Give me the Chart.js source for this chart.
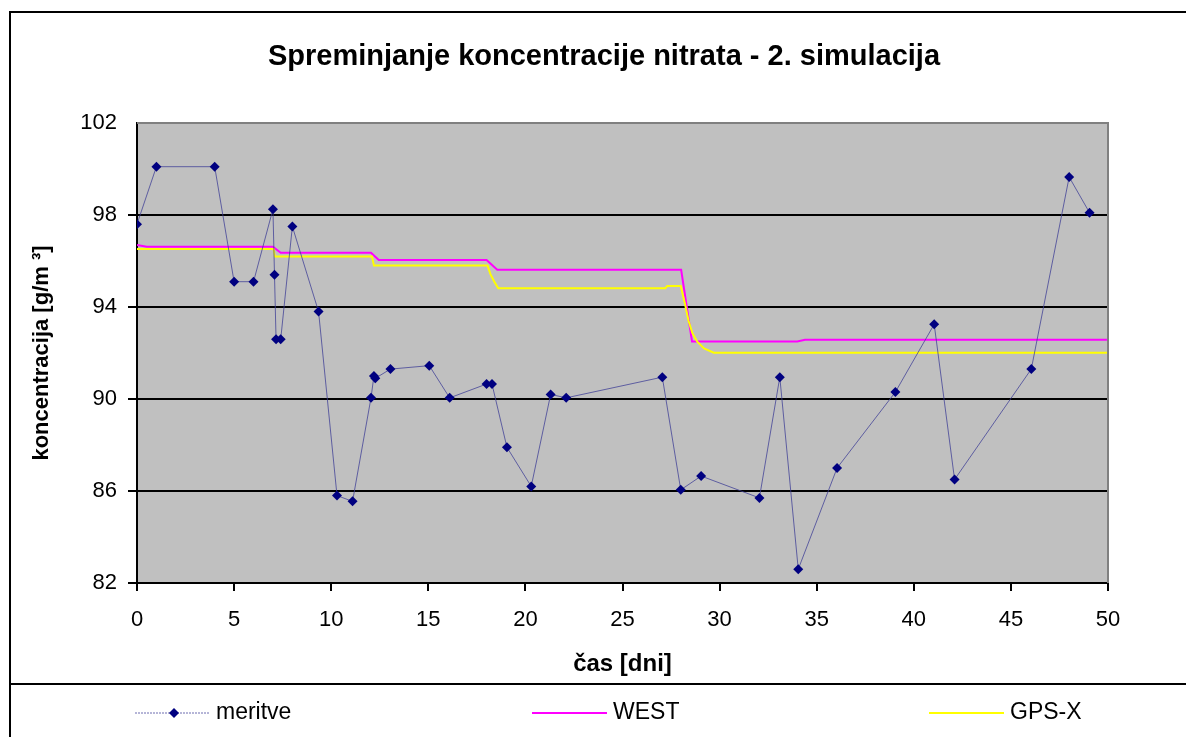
<!DOCTYPE html>
<html><head><meta charset="utf-8">
<script src="https://cdn.jsdelivr.net/npm/chart.js@4/dist/chart.umd.min.js"></script>
<style>html,body{margin:0;padding:0;background:#fff;overflow:hidden}</style>
</head><body>
<canvas id="c" width="1186" height="737" style="display:block;width:1186px;height:737px"></canvas>
<script>
const titleText = 'Spreminjanje koncentracije nitrata - 2. simulacija';
const xAxisTitle = 'čas [dni]';
const yAxisTitle = 'koncentracija [g/m ³]';
const seriesNames = ['meritve', 'WEST', 'GPS-X'];
const xTickValues = [0, 5, 10, 15, 20, 25, 30, 35, 40, 45, 50];
const yTickValues = [82, 86, 90, 94, 98, 102];

const meritveX = [0, 1, 4, 5, 6, 7, 7.08, 7.16, 7.4, 8, 9.35, 10.3, 11.1, 12.05, 12.2, 12.27, 13.05, 15.05, 16.1, 18.0, 18.28, 19.05, 20.3, 21.3, 22.1, 27.05, 28.0, 29.05, 32.05, 33.1, 34.05, 36.05, 39.05, 41.05, 42.1, 46.05, 48.0, 49.05];
const meritveY = [97.6, 100.1, 100.1, 95.1, 95.1, 98.25, 95.4, 92.6, 92.6, 97.5, 93.8, 85.8, 85.55, 90.05, 91.0, 90.9, 91.3, 91.45, 90.05, 90.65, 90.65, 87.9, 86.2, 90.2, 90.05, 90.95, 86.05, 86.65, 85.7, 90.95, 82.6, 87.0, 90.3, 93.25, 86.5, 91.3, 99.65, 98.1];

const westX = [0, 0.5, 7.0, 7.4, 12.05, 12.45, 18.0, 18.55, 28.02, 28.58, 34.0, 34.4, 50];
const westY = [96.7, 96.62, 96.62, 96.36, 96.36, 96.04, 96.04, 95.62, 95.62, 92.5, 92.5, 92.58, 92.58];

const gpsxX = [0, 7.03, 7.1, 12.1, 12.2, 18.05, 18.2, 18.4, 18.6, 27.2, 27.3, 28.0, 28.2, 28.4, 28.6, 28.85, 29.2, 29.7, 50];
const gpsxY = [96.52, 96.52, 96.2, 96.2, 95.8, 95.8, 95.43, 95.1, 94.81, 94.81, 94.91, 94.91, 94.2, 93.4, 92.86, 92.49, 92.2, 92.01, 92.01];

const toPts = (xs, ys) => xs.map((x, i) => ({x: x, y: ys[i]}));
const FONT = "'Liberation Sans', Arial, sans-serif";

const framePlugin = {
  id: 'frame',
  beforeDraw(chart) {
    const ctx = chart.ctx;
    ctx.save();
    ctx.fillStyle = '#fff';
    ctx.fillRect(0, 0, chart.width, chart.height);
    ctx.strokeStyle = '#000';
    ctx.lineWidth = 2;
    ctx.beginPath();
    ctx.moveTo(10, chart.height + 2); ctx.lineTo(10, 12); ctx.lineTo(chart.width + 2, 12);
    ctx.moveTo(10, 684); ctx.lineTo(chart.width + 2, 684);
    ctx.stroke();
    const a = chart.chartArea;
    ctx.fillStyle = '#c0c0c0';
    ctx.fillRect(a.left, a.top, a.right - a.left, a.bottom - a.top);
    ctx.restore();
  },
  afterDatasetsDraw(chart) {
    const ctx = chart.ctx;
    const a = chart.chartArea;
    ctx.save();
    ctx.strokeStyle = '#808080';
    ctx.lineWidth = 2;
    ctx.beginPath();
    ctx.moveTo(a.left, a.top); ctx.lineTo(a.right, a.top); ctx.lineTo(a.right, a.bottom);
    ctx.stroke();
    ctx.restore();
  },
  afterDraw(chart) {
    const ctx = chart.ctx;
    ctx.save();
    ctx.fillStyle = '#000';
    ctx.font = 'bold 29px ' + FONT;
    ctx.textAlign = 'center';
    ctx.textBaseline = 'middle';
    ctx.fillText(titleText, 604, 57);
    ctx.font = '23px ' + FONT;
    ctx.textAlign = 'left';
    const ly = 713;
    chart.data.datasets.forEach((ds, i) => {
      const x0 = 135 + i * 397;
      ctx.strokeStyle = ds.borderColor;
      ctx.lineWidth = i === 0 ? 1 : 2;
      ctx.setLineDash(i === 0 ? [2, 1] : []);
      ctx.beginPath(); ctx.moveTo(x0, ly); ctx.lineTo(x0 + 75, ly); ctx.stroke();
      ctx.setLineDash([]);
      if (i === 0) {
        ctx.fillStyle = ds.pointBackgroundColor;
        ctx.beginPath();
        ctx.moveTo(x0 + 39, ly - 5); ctx.lineTo(x0 + 44, ly); ctx.lineTo(x0 + 39, ly + 5); ctx.lineTo(x0 + 34, ly);
        ctx.closePath(); ctx.fill();
      }
      ctx.fillStyle = '#000';
      ctx.fillText(ds.label, x0 + 81, ly);
    });
    ctx.restore();
  }
};

new Chart(document.getElementById('c'), {
  type: 'scatter',
  data: {
    datasets: [
      {
        label: seriesNames[0],
        data: toPts(meritveX, meritveY),
        showLine: true,
        borderColor: 'rgba(60,60,150,0.75)',
        borderWidth: 1,
        pointStyle: 'rectRot',
        pointRadius: 5,
        pointBackgroundColor: '#000080',
        pointBorderColor: '#000080',
        pointBorderWidth: 0,
        order: 0
      },
      {
        label: seriesNames[1],
        data: toPts(westX, westY),
        showLine: true,
        borderColor: '#ff00ff',
        borderWidth: 2,
        pointRadius: 0,
        order: 2
      },
      {
        label: seriesNames[2],
        data: toPts(gpsxX, gpsxY),
        showLine: true,
        borderColor: '#ffff00',
        borderWidth: 2,
        pointRadius: 0,
        order: 1
      }
    ]
  },
  options: {
    responsive: false,
    animation: false,
    layout: { padding: { left: 20, top: 123, right: 78, bottom: 54 } },
    plugins: {
      legend: { display: false },
      title: { display: false },
      tooltip: { enabled: false }
    },
    scales: {
      x: {
        type: 'linear', min: 0, max: 50,
        afterBuildTicks: (s) => { s.ticks = xTickValues.map(v => ({value: v})); },
        afterFit: (s) => { s.height = 100; },
        border: { display: true, color: '#000', width: 2 },
        grid: { drawOnChartArea: false, drawTicks: true, tickLength: 8, color: '#000', lineWidth: 2 },
        ticks: { color: '#000', padding: 16, font: { family: FONT, size: 22 }, maxRotation: 0 },
        title: { display: true, text: xAxisTitle, color: '#000', font: { family: FONT, size: 24, weight: 'bold' }, padding: { top: 4, bottom: 4 } }
      },
      y: {
        min: 82, max: 102,
        afterBuildTicks: (s) => { s.ticks = yTickValues.map(v => ({value: v})); },
        afterFit: (s) => { s.width = 117; },
        border: { display: true, color: '#000', width: 2 },
        grid: {
          drawOnChartArea: true, drawTicks: true, tickLength: 9, lineWidth: 2,
          color: (c) => (c.tick && c.tick.value === 102) ? 'rgba(0,0,0,0)' : '#000'
        },
        ticks: { color: '#000', padding: 11, font: { family: FONT, size: 22 } },
        title: { display: true, text: yAxisTitle, color: '#000', font: { family: FONT, size: 22, weight: 'bold' }, padding: { top: 9, bottom: 4 } }
      }
    }
  },
  plugins: [framePlugin]
});
</script>
</body></html>
